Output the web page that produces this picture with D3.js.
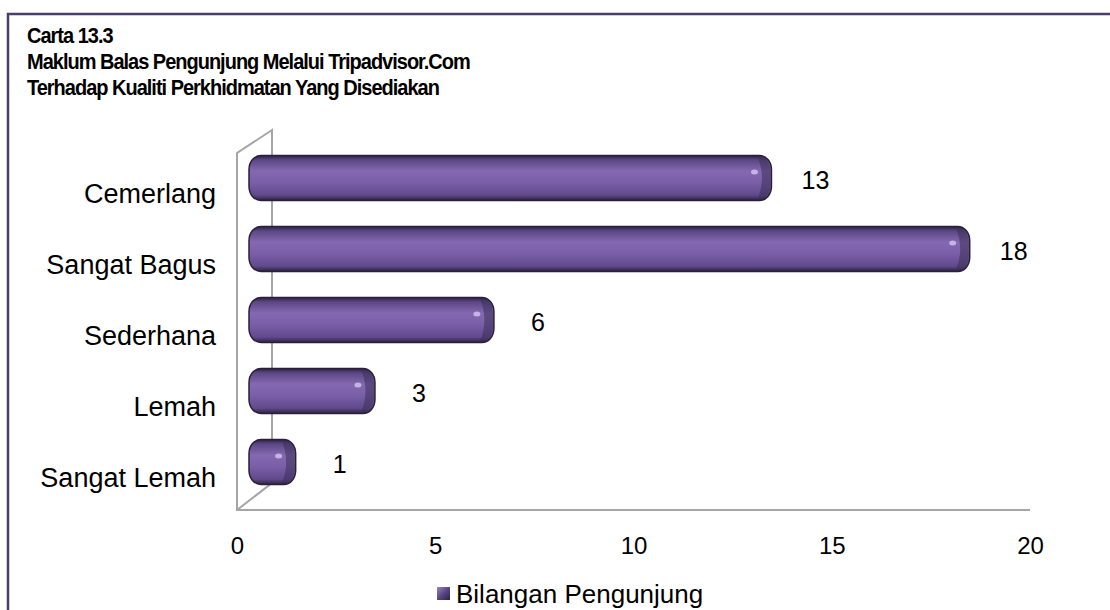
<!DOCTYPE html>
<meta charset="utf-8">
<style>
    body { margin: 0; background: #fff; }
    text { font-family: "Liberation Sans", Arial, sans-serif; fill: #000; }
    .title text { font-weight: bold; font-size: 20px; letter-spacing: -1px; }
    .cat text { font-size: 27px; }
    .vals text { font-size: 25px; }
</style>
<svg width="1110" height="610"></svg>
<script src="https://d3js.org/d3.v7.min.js"></script>
<script>

    var categories = ["Cemerlang", "Sangat Bagus", "Sederhana", "Lemah", "Sangat Lemah"];
    var values = [13, 18, 6, 3, 1];
    var ticks = [0, 5, 10, 15, 20];
    var titleLines = ["Carta 13.3",
        "Maklum Balas Pengunjung Melalui Tripadvisor.Com",
        "Terhadap Kualiti Perkhidmatan Yang Disediakan"];
    var seriesName = "Bilangan Pengunjung";

    var svg = d3.select("svg"),
        depth = 19,     // 3d offset of the bars
        barH = 45;

    var x = d3.scaleLinear().domain([0, 20]).range([237, 1030]);
    var y = d3.scalePoint().domain(categories).range([142.5, 497.5]).padding(0.5);

    var defs = svg.append("defs");

    var g1 = defs.append("linearGradient")
        .attr("id", "cyl").attr("x1", 0).attr("y1", 0).attr("x2", 0).attr("y2", 1);
    g1.append("stop").attr("offset", "0%").attr("stop-color", "#2c2140");
    g1.append("stop").attr("offset", "10%").attr("stop-color", "#5c4785");
    g1.append("stop").attr("offset", "35%").attr("stop-color", "#8469b1");
    g1.append("stop").attr("offset", "60%").attr("stop-color", "#7a5fa8");
    g1.append("stop").attr("offset", "88%").attr("stop-color", "#614a8c");
    g1.append("stop").attr("offset", "100%").attr("stop-color", "#2c2140");

    var g2 = defs.append("linearGradient")
        .attr("id", "legendSq").attr("x1", 0).attr("y1", 0).attr("x2", 1).attr("y2", 1);
    g2.append("stop").attr("offset", "0%").attr("stop-color", "#9a86c0");
    g2.append("stop").attr("offset", "50%").attr("stop-color", "#5a4684");
    g2.append("stop").attr("offset", "100%").attr("stop-color", "#2c2140");

    // outer frame (only top and left visible)
    svg.append("path")
        .attr("d", "M8,610 L8,14 L1110,14")
        .attr("fill", "none")
        .attr("stroke", "#4a3f6b")
        .attr("stroke-width", 2.5);

    // title
    svg.append("g").attr("class", "title")
        .selectAll("text")
        .data(titleLines)
        .enter().append("text")
        .attr("transform", function (d, i) {
            return "translate(27," + (43 + i * 26) + ") scale(1,1.12)";
        })
        .text(function (d) { return d; });

    // 3d wall
    var x0 = x(0), wallTop = 130, wallBot = 510;
    svg.append("path")
        .attr("d", "M" + x(20) + "," + wallBot + " L" + x0 + "," + wallBot +
            " L" + x0 + "," + (wallTop + 23) + " L" + (x0 + 35) + "," + wallTop +
            " L" + (x0 + 35) + "," + (wallBot - 27) + " L" + x0 + "," + wallBot)
        .attr("fill", "none")
        .attr("stroke", "#a6a6a6")
        .attr("stroke-width", 2);

    // bars
    var bars = svg.append("g").selectAll("g")
        .data(values)
        .enter().append("g");

    bars.append("rect")
        .attr("x", x0 + 12)
        .attr("y", function (d, i) { return y(categories[i]) - barH / 2; })
        .attr("width", function (d) { return x(d) + depth - (x0 + 12); })
        .attr("height", barH)
        .attr("rx", 12).attr("ry", 14)
        .attr("fill", "url(#cyl)")
        .attr("stroke", "#2a2038")
        .attr("stroke-width", 1.5);

    // end cap shading
    bars.append("path")
        .attr("d", function (d, i) {
            var e = x(d) + depth, t = y(categories[i]) - barH / 2;
            return "M" + (e - 14) + "," + (t + 1) + " Q" + (e + 1) + "," + (t + 1) + " " + (e - 1) + "," + (t + barH / 2) +
                " Q" + (e + 1) + "," + (t + barH - 1) + " " + (e - 14) + "," + (t + barH - 1) +
                " Q" + (e - 5) + "," + (t + barH / 2) + " " + (e - 14) + "," + (t + 1) + "Z";
        })
        .attr("fill", "#3d2f58")
        .attr("opacity", 0.55);

    bars.append("ellipse")
        .attr("cx", function (d) { return x(d) + depth - 17; })
        .attr("cy", function (d, i) { return y(categories[i]) - 6; })
        .attr("rx", 3.5).attr("ry", 2.5)
        .attr("fill", "#d9cdf5")
        .attr("opacity", 0.75);

    // value labels
    svg.append("g").attr("class", "vals")
        .selectAll("text")
        .data(values)
        .enter().append("text")
        .attr("x", function (d) { return x(d) + depth + 44; })
        .attr("y", function (d, i) { return y(categories[i]) + 2; })
        .attr("dominant-baseline", "central")
        .attr("text-anchor", "middle")
        .text(function (d) { return d; });

    // category labels
    svg.append("g").attr("class", "cat")
        .selectAll("text")
        .data(categories)
        .enter().append("text")
        .attr("x", 216)
        .attr("y", function (d) { return y(d) + 16; })
        .attr("dominant-baseline", "central")
        .attr("text-anchor", "end")
        .text(function (d) { return d; });

    // x axis
    var axis = svg.append("g").attr("class", "axis")
        .attr("transform", "translate(0,545)")
        .call(d3.axisBottom(x).tickValues(ticks).tickSize(0).tickPadding(0));
    axis.select(".domain").remove();
    axis.selectAll("text")
        .attr("dy", null)
        .attr("y", 0)
        .attr("dominant-baseline", "central")
        .style("font-size", "24px")
        .style("font-family", "Liberation Sans, Arial, sans-serif")
        .attr("fill", "#000");

    // legend
    var leg = svg.append("g").attr("transform", "translate(437,587)");
    leg.append("rect").attr("width", 13).attr("height", 13).attr("fill", "url(#legendSq)");
    leg.append("text").attr("x", 19).attr("y", 7)
        .attr("dominant-baseline", "central")
        .style("font-size", "26px")
        .text(seriesName);

</script>
